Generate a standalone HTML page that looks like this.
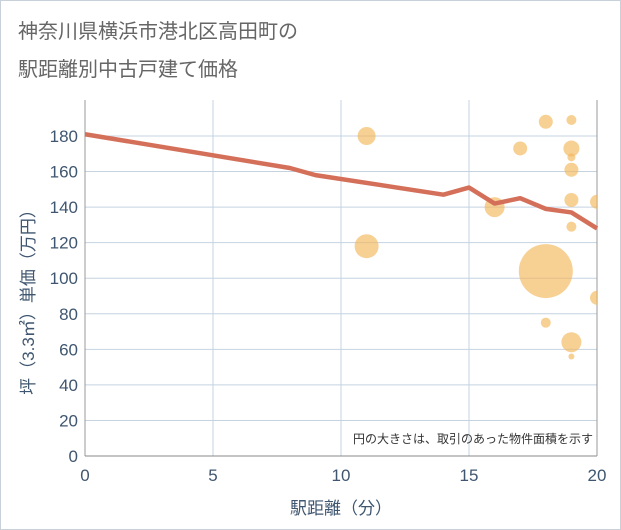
<!DOCTYPE html>
<html><head><meta charset="utf-8"><style>
body{margin:0;background:#fff;font-family:"Liberation Sans","Noto Sans CJK JP",sans-serif;}
#wrap{position:relative;width:621px;height:530px;overflow:hidden;background:#fff;}
.t{font-family:"Liberation Sans","Noto Sans CJK JP",sans-serif;}
</style></head><body>
<div id="wrap">
<svg id="svg" width="621" height="530"></svg>
</div>
<script>
const xTicks=[0,5,10,15,20];
const yTicks=[0,20,40,60,80,100,120,140,160,180];
const lineX=[0,8,9,14,15,16,17,18,19,20];
const lineY=[181,162,158,147,151,142,145,139,137,128];
const bubX=[11,11,16,17,18,18,18,19,19,19,19,19,19,19,19,20,20];
const bubY=[180,118,140,173,188,104,75,189,173,168,161,144,129,64,56,143,89];
const bubR=[9,12,10,7,7,27,5,5,8,4,7,7,5,10,3,7,7];
const NS='http://www.w3.org/2000/svg';
const svg=document.getElementById('svg');
const L=85,R=597,T=100,B=456;
const TC='#3f5670';
const sx=v=>L+(v-0)/20*(R-L);
const sy=v=>B-v/180*320;
function mk(tag,attrs,parent){const e=document.createElementNS(NS,tag);for(const k in attrs)e.setAttribute(k,attrs[k]);(parent||svg).appendChild(e);return e;}
let e=mk('rect',{x:0.5,y:0.5,width:620,height:529,fill:'#fff',stroke:'#c8d0da'});


e=mk('text',{x:18,y:38,'font-size':20,fill:'#666',class:'t'});e.textContent='神奈川県横浜市港北区高田町の';


e=mk('text',{x:18,y:76,'font-size':20,fill:'#666',class:'t'});e.textContent='駅距離別中古戸建て価格';


yTicks.forEach(v=>{const g=mk('line',{x1:L,x2:R,y1:sy(v),y2:sy(v),stroke:'#c5d3e0','stroke-width':1});


const t=mk('text',{x:L-7,y:sy(v)+6,'font-size':17,fill:TC,'text-anchor':'end',class:'t'});t.textContent=v;

});
xTicks.forEach(v=>{const g=mk('line',{x1:sx(v),x2:sx(v),y1:T,y2:B,stroke:'#c5d3e0','stroke-width':1});


const t=mk('text',{x:sx(v),y:B+25,'font-size':17,fill:TC,'text-anchor':'middle',class:'t'});t.textContent=v;

});
e=mk('line',{x1:L,x2:L,y1:T,y2:B,stroke:'#999','stroke-width':1});


e=mk('line',{x1:L,x2:R,y1:B,y2:B,stroke:'#888','stroke-width':1});


e=mk('line',{x1:R,x2:R,y1:T,y2:B,stroke:'#999','stroke-width':1});


const cp=mk('clipPath',{id:'cp'});mk('rect',{x:L,y:T,width:R-L,height:B-T},cp);
const bg=mk('g',{'clip-path':'url(#cp)'});
bubX.forEach((x,i)=>{const c=mk('circle',{cx:sx(x),cy:sy(bubY[i]),r:bubR[i],fill:'#f2b75a','fill-opacity':0.65},bg);

});
const pts=lineX.map((x,i)=>sx(x)+','+sy(lineY[i])).join(' ');
e=mk('polyline',{points:pts,fill:'none',stroke:'#d4705a','stroke-width':4.5,'stroke-linejoin':'round'});


e=mk('text',{x:593,y:443,'font-size':12,fill:'#333','text-anchor':'end',class:'t'});e.textContent='円の大きさは、取引のあった物件面積を示す';


e=mk('text',{x:341,y:514,'font-size':17,fill:TC,'text-anchor':'middle',class:'t'});e.textContent='駅距離（分）';


e=mk('text',{x:0,y:0,'font-size':17,fill:TC,'text-anchor':'middle',class:'t',transform:'translate(34,298) rotate(-90)'});e.textContent='坪（3.3㎡）単価（万円）';


</script>
</body></html>
